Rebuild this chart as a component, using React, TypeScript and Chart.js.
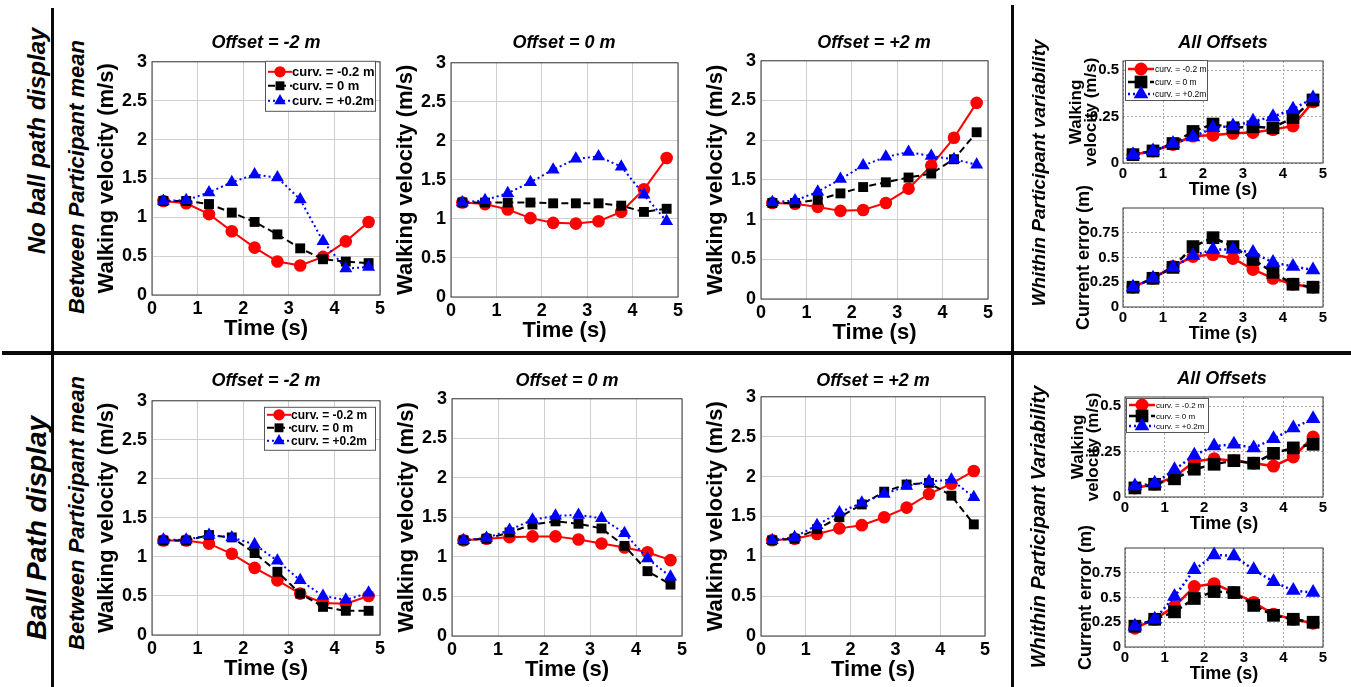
import React, { useEffect, useRef } from 'react';
import { Chart, registerables } from 'chart.js';

Chart.register(...registerables);

const FONT = '"Liberation Sans", Arial, Helvetica, sans-serif';

// ---------- data ----------
const timeS = [0.25, 0.75, 1.25, 1.75, 2.25, 2.75, 3.25, 3.75, 4.25, 4.75];
const curvLabels = ['curv. = -0.2 m', 'curv. = 0 m', 'curv. = +0.2m'];
const offsetTitles = ['Offset = -2 m', 'Offset = 0 m', 'Offset = +2 m'];
const rowLabels = ['No ball path display', 'Ball Path display'];
const velVarTicks = [0, 0.25, 0.5];
const errTicks = [0, 0.25, 0.5, 0.75];

// No ball path display – between participant mean walking velocity (m/s)
const noBallOffM2Neg = [1.21, 1.18, 1.04, 0.82, 0.61, 0.43, 0.38, 0.49, 0.69, 0.94];
const noBallOffM2Zero = [1.21, 1.21, 1.17, 1.06, 0.94, 0.78, 0.6, 0.46, 0.43, 0.41];
const noBallOffM2Pos = [1.21, 1.22, 1.32, 1.45, 1.55, 1.51, 1.23, 0.69, 0.34, 0.36];

const noBallOff0Neg = [1.21, 1.19, 1.12, 1.01, 0.95, 0.94, 0.97, 1.09, 1.38, 1.78];
const noBallOff0Zero = [1.21, 1.21, 1.21, 1.21, 1.2, 1.2, 1.2, 1.17, 1.09, 1.13];
const noBallOff0Pos = [1.21, 1.24, 1.33, 1.47, 1.63, 1.77, 1.8, 1.67, 1.31, 0.97];

const noBallOffP2Neg = [1.21, 1.2, 1.16, 1.11, 1.12, 1.21, 1.39, 1.68, 2.03, 2.47];
const noBallOffP2Zero = [1.21, 1.21, 1.25, 1.33, 1.41, 1.47, 1.53, 1.58, 1.76, 2.1];
const noBallOffP2Pos = [1.22, 1.24, 1.35, 1.51, 1.68, 1.79, 1.85, 1.8, 1.76, 1.69];

// No ball path display – within participant variability
const noBallVelVarNeg = [0.045, 0.065, 0.1, 0.145, 0.15, 0.16, 0.165, 0.18, 0.2, 0.33];
const noBallVelVarZero = [0.045, 0.065, 0.105, 0.17, 0.21, 0.19, 0.195, 0.19, 0.245, 0.34];
const noBallVelVarPos = [0.045, 0.065, 0.105, 0.14, 0.19, 0.2, 0.225, 0.25, 0.29, 0.35];

const noBallErrNeg = [0.2, 0.29, 0.41, 0.51, 0.53, 0.49, 0.38, 0.29, 0.23, 0.2];
const noBallErrZero = [0.2, 0.29, 0.4, 0.61, 0.7, 0.61, 0.48, 0.35, 0.23, 0.2];
const noBallErrPos = [0.2, 0.29, 0.4, 0.52, 0.58, 0.58, 0.55, 0.45, 0.41, 0.375];

// Ball path display – between participant mean walking velocity (m/s)
const ballOffM2Neg = [1.21, 1.21, 1.17, 1.04, 0.86, 0.7, 0.53, 0.41, 0.4, 0.5];
const ballOffM2Zero = [1.21, 1.21, 1.28, 1.25, 1.05, 0.81, 0.53, 0.36, 0.31, 0.31];
const ballOffM2Pos = [1.22, 1.22, 1.28, 1.25, 1.16, 0.95, 0.7, 0.5, 0.45, 0.54];

const ballOff0Neg = [1.21, 1.23, 1.25, 1.26, 1.26, 1.22, 1.17, 1.12, 1.06, 0.96];
const ballOff0Zero = [1.21, 1.23, 1.31, 1.41, 1.45, 1.42, 1.36, 1.14, 0.82, 0.65];
const ballOff0Pos = [1.21, 1.24, 1.34, 1.47, 1.52, 1.53, 1.49, 1.3, 0.98, 0.75];

const ballOffP2Neg = [1.2, 1.22, 1.28, 1.35, 1.39, 1.49, 1.61, 1.78, 1.91, 2.07];
const ballOffP2Zero = [1.2, 1.22, 1.34, 1.49, 1.65, 1.81, 1.9, 1.92, 1.76, 1.4];
const ballOffP2Pos = [1.2, 1.24, 1.39, 1.55, 1.67, 1.78, 1.88, 1.94, 1.96, 1.74];

// Ball path display – within participant variability
const ballVelVarNeg = [0.05, 0.07, 0.11, 0.195, 0.21, 0.2, 0.186, 0.17, 0.22, 0.33];
const ballVelVarZero = [0.05, 0.07, 0.1, 0.153, 0.18, 0.2, 0.186, 0.24, 0.27, 0.29];
const ballVelVarPos = [0.06, 0.075, 0.15, 0.23, 0.28, 0.29, 0.27, 0.32, 0.38, 0.43];

const ballErrNeg = [0.19, 0.28, 0.41, 0.61, 0.64, 0.55, 0.45, 0.33, 0.28, 0.24];
const ballErrZero = [0.21, 0.28, 0.355, 0.49, 0.56, 0.55, 0.42, 0.32, 0.28, 0.25];
const ballErrPos = [0.21, 0.28, 0.51, 0.78, 0.93, 0.92, 0.78, 0.66, 0.57, 0.55];

// ---------- styles ----------
const seriesColors = ['#ff0000', '#000000', '#0000ff'];
const seriesDash = [[], [7, 4], [2, 3]];
const seriesMarker = ['circle', 'rect', 'triangle'];

type Kind = 'main' | 'vel' | 'err';
type LegendCfg = { dx: number; dy: number; w: number; h: number; rows: number[]; font: number; lineLen: number; textX: number; bold: boolean };
type PanelCfg = { plot: [number, number, number, number]; kind: Kind; series: number[][]; legend?: LegendCfg };

const MARGINS: Record<Kind, { left: number; top: number; right: number; bottom: number }> = {
  main: { left: 60, top: 14, right: 14, bottom: 52 },
  vel: { left: 60, top: 45, right: 14, bottom: 40 },
  err: { left: 60, top: 45, right: 14, bottom: 40 },
};

const mainLegend1: LegendCfg = { dx: 113, dy: -1, w: 110, h: 50, rows: [11, 25, 40], font: 13, lineLen: 24, textX: 27, bold: true };
const mainLegend2: LegendCfg = { dx: 112, dy: 6, w: 111, h: 43, rows: [8, 21, 34], font: 12, lineLen: 24, textX: 27, bold: true };
const smallLegend1: LegendCfg = { dx: 2, dy: -1, w: 82, h: 40, rows: [9, 22, 34], font: 8.5, lineLen: 26, textX: 30, bold: false };
const smallLegend2: LegendCfg = { dx: 1, dy: 1, w: 82, h: 34, rows: [7, 18, 28], font: 8, lineLen: 26, textX: 30, bold: false };

const panels: PanelCfg[] = [
  { plot: [152, 60, 380, 295], kind: 'main', series: [noBallOffM2Neg, noBallOffM2Zero, noBallOffM2Pos], legend: mainLegend1 },
  { plot: [451, 61, 678, 297], kind: 'main', series: [noBallOff0Neg, noBallOff0Zero, noBallOff0Pos] },
  { plot: [761, 59, 988, 299], kind: 'main', series: [noBallOffP2Neg, noBallOffP2Zero, noBallOffP2Pos] },
  { plot: [1123, 61, 1323, 163], kind: 'vel', series: [noBallVelVarNeg, noBallVelVarZero, noBallVelVarPos], legend: smallLegend1 },
  { plot: [1123, 208, 1323, 307], kind: 'err', series: [noBallErrNeg, noBallErrZero, noBallErrPos] },
  { plot: [152, 399, 380, 635], kind: 'main', series: [ballOffM2Neg, ballOffM2Zero, ballOffM2Pos], legend: mainLegend2 },
  { plot: [452, 397, 682, 636], kind: 'main', series: [ballOff0Neg, ballOff0Zero, ballOff0Pos] },
  { plot: [761, 395, 985, 636], kind: 'main', series: [ballOffP2Neg, ballOffP2Zero, ballOffP2Pos] },
  { plot: [1125, 397, 1323, 497], kind: 'vel', series: [ballVelVarNeg, ballVelVarZero, ballVelVarPos], legend: smallLegend2 },
  { plot: [1125, 548, 1323, 647], kind: 'err', series: [ballErrNeg, ballErrZero, ballErrPos] },
];

const fmt = (v: any) => String(+Number(v).toFixed(2));

function drawMarker(ctx: CanvasRenderingContext2D, style: string, x: number, y: number, r: number, color: string) {
  ctx.save();
  ctx.fillStyle = color;
  ctx.setLineDash([]);
  ctx.beginPath();
  if (style === 'circle') {
    ctx.arc(x, y, r, 0, Math.PI * 2);
  } else if (style === 'rect') {
    const s = r * Math.SQRT1_2;
    ctx.rect(x - s, y - s, 2 * s, 2 * s);
  } else {
    ctx.moveTo(x, y - r);
    ctx.lineTo(x + r * Math.sin((2 * Math.PI) / 3), y - r * Math.cos((2 * Math.PI) / 3));
    ctx.lineTo(x + r * Math.sin((4 * Math.PI) / 3), y - r * Math.cos((4 * Math.PI) / 3));
    ctx.closePath();
  }
  ctx.fill();
  ctx.restore();
}

const framePlugin = {
  id: 'frame',
  beforeDatasetsDraw(chart: any) {
    const { ctx, chartArea } = chart;
    ctx.save();
    ctx.strokeStyle = '#3a3a3a';
    ctx.lineWidth = 1;
    ctx.setLineDash([]);
    ctx.strokeRect(chartArea.left, chartArea.top, chartArea.right - chartArea.left, chartArea.bottom - chartArea.top);
    ctx.restore();
  },
};

function Panel({ cfg }: { cfg: PanelCfg }) {
  const ref = useRef<HTMLCanvasElement>(null);
  const m = MARGINS[cfg.kind];
  const [l, t, r, b] = cfg.plot;
  const W = r - l + m.left + m.right;
  const H = b - t + m.top + m.bottom;
  const small = cfg.kind !== 'main';

  useEffect(() => {
    if (!ref.current) return;
    const radii = small ? [6.5, 9, 8.5] : [6.3, 7, 7.5];
    const lw = small ? 2.5 : 2;
    const datasets = cfg.series.map((vals, i) => ({
      label: curvLabels[i],
      data: timeS.map((x, j) => ({ x, y: vals[j] })),
      borderColor: seriesColors[i],
      backgroundColor: seriesColors[i],
      pointBackgroundColor: seriesColors[i],
      pointBorderColor: seriesColors[i],
      pointBorderWidth: 0,
      borderWidth: lw,
      borderDash: seriesDash[i],
      pointStyle: seriesMarker[i],
      pointRadius: radii[i],
      order: 2 - i,
      clip: false,
      tension: 0,
    }));

    const legendPlugin = {
      id: 'boxLegend',
      afterDraw(chart: any) {
        const lg = cfg.legend;
        if (!lg) return;
        const { ctx, chartArea } = chart;
        const x0 = chartArea.left + lg.dx;
        const y0 = chartArea.top + lg.dy;
        ctx.save();
        ctx.fillStyle = '#ffffff';
        ctx.fillRect(x0, y0, lg.w, lg.h);
        ctx.strokeStyle = '#555';
        ctx.lineWidth = 1;
        ctx.strokeRect(x0 + 0.5, y0 + 0.5, lg.w, lg.h);
        lg.rows.forEach((ry, i) => {
          const y = y0 + ry;
          ctx.strokeStyle = seriesColors[i];
          ctx.lineWidth = lw;
          ctx.setLineDash(seriesDash[i]);
          ctx.beginPath();
          ctx.moveTo(x0 + 3, y);
          ctx.lineTo(x0 + 3 + lg.lineLen, y);
          ctx.stroke();
          drawMarker(ctx, seriesMarker[i], x0 + 3 + lg.lineLen / 2, y, radii[i] * (small ? 1 : 0.9), seriesColors[i]);
          ctx.setLineDash([]);
          ctx.fillStyle = '#000';
          ctx.font = `${lg.bold ? 'bold ' : ''}${lg.font}px ${FONT}`;
          ctx.textBaseline = 'middle';
          ctx.textAlign = 'left';
          ctx.fillText(curvLabels[i], x0 + lg.textX, y + 0.5);
        });
        ctx.restore();
      },
    };

    const tickFont = small ? 15 : 18;
    const xTitleFont = small ? 18 : 22;
    const gridColor = small ? '#a8a8a8' : '#cfcfcf';
    const gridDash = small ? [2, 2] : [];

    let yScale: any;
    if (cfg.kind === 'main') {
      yScale = {
        type: 'linear', min: 0, max: 3,
        ticks: { stepSize: 0.5, font: { size: tickFont, weight: 'bold' }, color: '#000', padding: 5, callback: fmt },
        title: { display: true, text: 'Walking velocity (m/s)', font: { size: 22, weight: 'bold' }, color: '#000', padding: { top: 2, bottom: 0 } },
      };
    } else if (cfg.kind === 'vel') {
      yScale = {
        type: 'linear', min: 0, max: 0.55,
        afterBuildTicks: (s: any) => { s.ticks = velVarTicks.map((v) => ({ value: v })); },
        ticks: { font: { size: tickFont, weight: 'bold' }, color: '#000', padding: 4, callback: fmt },
        title: { display: true, text: ['Walking', 'velocity (m/s)'], font: { size: 17, weight: 'bold', lineHeight: 0.9 }, color: '#000', padding: { top: 5.4, bottom: 0 } },
      };
    } else {
      yScale = {
        type: 'linear', min: 0, max: 1,
        afterBuildTicks: (s: any) => { s.ticks = errTicks.map((v) => ({ value: v })); },
        ticks: { font: { size: tickFont, weight: 'bold' }, color: '#000', padding: 4, callback: fmt },
        title: { display: true, text: 'Current error (m)', font: { size: 18, weight: 'bold' }, color: '#000', padding: { top: 10, bottom: 0 } },
      };
    }
    yScale.grid = { color: gridColor, drawTicks: false, lineWidth: 1 };
    yScale.border = { display: false, dash: gridDash };
    yScale.afterFit = (s: any) => { s.width = m.left; };

    const chart = new Chart(ref.current, {
      type: 'line',
      data: { datasets: datasets as any },
      options: {
        animation: false,
        responsive: false,
        devicePixelRatio: 1,
        layout: { padding: { left: 0, top: m.top, right: m.right, bottom: 0 } },
        plugins: { legend: { display: false }, tooltip: { enabled: false }, title: { display: false } },
        scales: {
          x: {
            type: 'linear', min: 0, max: 5,
            ticks: { stepSize: 1, font: { size: tickFont, weight: 'bold' }, color: '#000', padding: small ? 2 : 3, maxRotation: 0, autoSkip: false, callback: fmt },
            grid: { color: gridColor, drawTicks: false, lineWidth: 1 },
            border: { display: false, dash: gridDash },
            title: { display: true, text: 'Time (s)', font: { size: xTitleFont, weight: 'bold' }, color: '#000', padding: { top: 0, bottom: small ? 2.2 : 4.8 } },
            afterFit: (s: any) => { s.height = m.bottom; },
          } as any,
          y: yScale,
        },
      } as any,
      plugins: [framePlugin, legendPlugin],
    });
    return () => chart.destroy();
  }, []);

  return (
    <canvas
      ref={ref}
      width={W}
      height={H}
      style={{ position: 'absolute', left: l - m.left, top: t - m.top, width: W, height: H, display: 'block' }}
    />
  );
}

function Label({ text, cx, cy, size, rotate = false, italic = true }: { text: string; cx: number; cy: number; size: number; rotate?: boolean; italic?: boolean }) {
  return (
    <div
      style={{
        position: 'absolute', left: cx, top: cy,
        transform: `translate(-50%, -50%)${rotate ? ' rotate(-90deg)' : ''}`,
        fontFamily: FONT, fontWeight: 'bold', fontStyle: italic ? 'italic' : 'normal',
        fontSize: size, lineHeight: 1, whiteSpace: 'nowrap', color: '#000',
      }}
    >
      {text}
    </div>
  );
}

function Rule({ x, y, w, h }: { x: number; y: number; w: number; h: number }) {
  return <div style={{ position: 'absolute', left: x, top: y, width: w, height: h, background: '#0a0a0a' }} />;
}

export default function App() {
  useEffect(() => {
    document.body.style.margin = '0';
  }, []);
  const mainCentersRow1 = [266, 564, 874];
  const mainCentersRow2 = [266, 567, 873];
  return (
    <div style={{ position: 'absolute', left: 0, top: 0, width: 1351, height: 687, background: '#fff', overflow: 'hidden' }}>
      {panels.map((p, i) => (
        <Panel key={i} cfg={p} />
      ))}
      {offsetTitles.map((tt, i) => (
        <Label key={'t1' + i} text={tt} cx={mainCentersRow1[i]} cy={42} size={18} />
      ))}
      {offsetTitles.map((tt, i) => (
        <Label key={'t2' + i} text={tt} cx={mainCentersRow2[i]} cy={380} size={18} />
      ))}
      <Label text="All Offsets" cx={1223} cy={42} size={18} />
      <Label text="All Offsets" cx={1222} cy={378} size={18} />
      <Label text="Between Participant mean" cx={77} cy={177} size={22} rotate />
      <Label text="Between Participant mean" cx={77} cy={513} size={22} rotate />
      <Label text="Whithin Participant variability" cx={1038} cy={173} size={19} rotate />
      <Label text="Whithin Participant Variability" cx={1038} cy={527} size={20} rotate />
      <Label text={rowLabels[0]} cx={37} cy={141} size={24} rotate />
      <Label text={rowLabels[1]} cx={37} cy={528} size={28} rotate />
      <Rule x={51} y={8} w={3} h={679} />
      <Rule x={1011} y={5} w={3} h={682} />
      <Rule x={2} y={351} w={1349} h={4} />
    </div>
  );
}
